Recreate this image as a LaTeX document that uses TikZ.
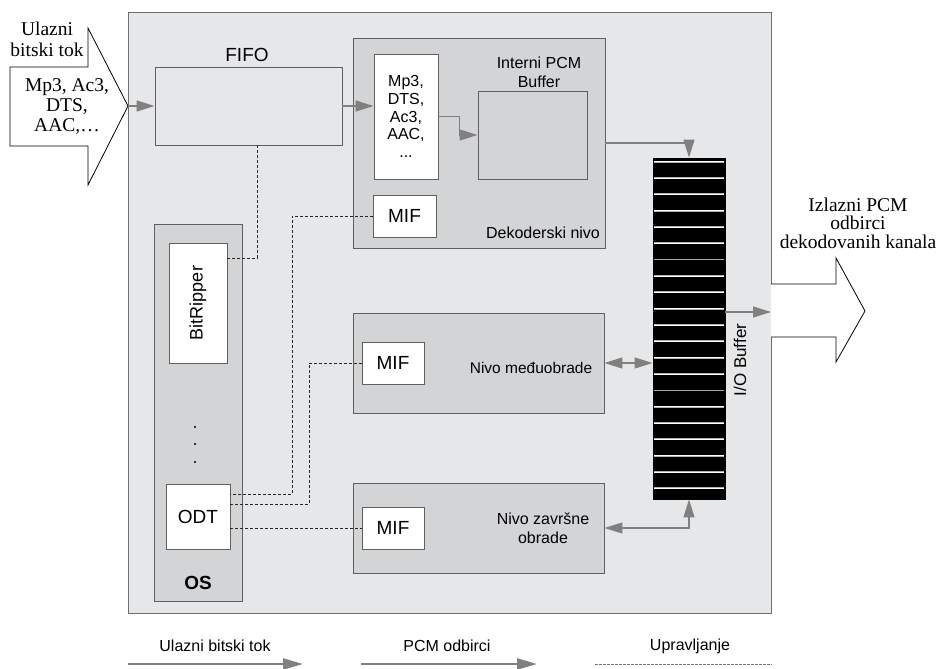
\documentclass[tikz,border=0pt]{standalone}
\usepackage{fontspec}
\setmainfont{Liberation Serif}
\setsansfont{Liberation Sans}
\usetikzlibrary{arrows.meta,calc}
\definecolor{bgout}{RGB}{230,231,233}
\definecolor{bgin}{RGB}{211,212,214}
\definecolor{edgec}{RGB}{95,95,95}
\definecolor{flow}{RGB}{128,128,128}
\begin{document}
\begin{tikzpicture}[x=1pt,y=-1pt,
  blk/.style={draw=edgec, line width=0.9pt, inner sep=0pt, anchor=center},
  wbox/.style={blk, fill=white},
  gbox/.style={blk, fill=bgin},
  sf/.style={font=\sffamily\fontsize{16}{18}\selectfont, inner sep=0pt},
  sfbig/.style={font=\sffamily\fontsize{19}{21}\selectfont},
  rm/.style={font=\rmfamily\fontsize{19.5}{20}\selectfont, inner sep=0pt, align=center},
  tipA/.tip={Triangle[length=18pt,width=11pt]},
  data/.style={draw=flow, line width=1.3pt, -tipA},
  datab/.style={draw=flow, line width=1.3pt, tipA-tipA},
  ctrl/.style={draw=black!85, line width=0.8pt, dash pattern=on 3pt off 2pt},
  legarrow/.style={draw=flow, line width=2.5pt, -{Triangle[length=20pt,width=11pt]}},
  legctrl/.style={draw=flow!90!black, line width=1pt, dash pattern=on 2.5pt off 1.5pt},
  stripe/.style={draw=gray!60, line width=1.8pt},
  stripein/.style={draw=white, line width=0.7pt},
  stripedim/.style={draw=gray!70, line width=0.8pt}
]
\useasboundingbox (0,0) rectangle (943,669);

% outer system box
\node[blk, draw=edgec!90, fill=bgout, minimum width=643pt, minimum height=601pt] (outer) at (449.5,312.5) {};

% input hollow arrow
\draw[line width=0.8pt, fill=white] (10,67) -- (88,67) -- (88,28) -- (128,106) -- (88,185) -- (88,146) -- (10,146) -- cycle;
\coordinate (intip) at (128,106);
\node[rm, font=\rmfamily\fontsize{19.5}{21}\selectfont] (inlab) at (47,39) {Ulazni\\bitski tok};
\node[rm] (infmt) at (67,107) {Mp3, Ac3,\\DTS,\\AAC,\ldots};

% output hollow arrow
\draw[line width=0.8pt, fill=white] (771,284) -- (836,284) -- (836,258) -- (865,311) -- (836,362) -- (836,337) -- (771,337);
\node[rm, font=\rmfamily\fontsize{19.5}{18.5}\selectfont] (outlab) at (858,223) {Izlazni PCM\\odbirci\\dekodovanih kanala};

% FIFO
\node[blk, fill=bgout, minimum width=187pt, minimum height=78pt] (fifo) at (248.5,106) {};
\node[sfbig, inner sep=0pt] (fifolab) at (247,55) {FIFO};

% decoder level
\node[gbox, minimum width=252pt, minimum height=210pt] (dec) at (479,143) {};
\node[wbox, minimum width=64pt, minimum height=125pt, align=center, font=\sffamily\fontsize{16}{17.7}\selectfont] (mp3) at (406,116.5) {Mp3,\\DTS,\\Ac3,\\AAC,\\...};
\node[gbox, minimum width=109pt, minimum height=88pt] (ipcm) at (532.5,135) {};
\node[sf, align=center, font=\sffamily\fontsize{16}{19}\selectfont] (ipcmlab) at (539,72) {Interni PCM\\Buffer};
\node[wbox, sfbig, minimum width=63pt, minimum height=42pt] (mif1) at (404.5,216) {MIF};
\node[sf] (declab) at (543,233) {Dekoderski nivo};

% intermediate level
\node[gbox, minimum width=251pt, minimum height=100pt] (mid) at (478.5,363) {};
\node[wbox, sfbig, minimum width=62pt, minimum height=42pt] (mif2) at (393,363) {MIF};
\node[sf, font=\sffamily\fontsize{15.5}{18}\selectfont] (midlab) at (531,368) {Nivo međuobrade};

% final level
\node[gbox, minimum width=251pt, minimum height=90pt] (fin) at (478.5,528) {};
\node[wbox, sfbig, minimum width=62pt, minimum height=42pt] (mif3) at (393,528) {MIF};
\node[sf, align=center, font=\sffamily\fontsize{16}{19}\selectfont] (finlab) at (543,528.5) {Nivo završne\\obrade};

% OS
\node[gbox, minimum width=88pt, minimum height=377pt] (os) at (198,412.5) {};
\node[wbox, minimum width=58pt, minimum height=120pt] (bitr) at (198,303) {};
\node[sf, rotate=90, font=\sffamily\fontsize{18}{20}\selectfont] (bitrlab) at (bitr.center) {BitRipper};
\fill (195,427) circle (1.1pt);
\fill (195,444) circle (1.1pt);
\fill (195,462) circle (1.1pt);
\node[wbox, sfbig, minimum width=64pt, minimum height=65pt] (odt) at (198,516.5) {ODT};
\node[font=\sffamily\bfseries\fontsize{19}{21}\selectfont, inner sep=0pt] (oslab) at (198,583) {OS};

% I/O buffer
\node[blk, draw=black, fill=black, minimum width=72pt, minimum height=341pt] (iob) at (689,328.5) {};
\foreach \i in {0,...,20}{
  \pgfmathsetmacro\yy{161.7+16.33*\i}
  \ifnum\i=6
    \draw[stripedim] (654,\yy) -- (724,\yy);
  \else\ifnum\i=14
    \draw[stripedim] (654,\yy) -- (724,\yy);
  \else
    \draw[stripe] (654,\yy) -- (724,\yy);
    \draw[stripein] (654,\yy) -- (724,\yy);
  \fi\fi
}
\node[sf, rotate=90, font=\sffamily\fontsize{17}{19}\selectfont] (ioblab) at (740,360) {I/O Buffer};

% data connectors
\draw[data] (intip) -- (fifo.west);
\draw[data] (fifo.east) -- (fifo.east -| mp3.west);
\draw[data] (mp3.east) -- ++(21,0) |- (ipcm.west);
\draw[data] (dec.east) -| (iob.north);
\draw[datab] (mid.east) -- (mid.east -| iob.west);
\draw[datab] (fin.east) -| (iob.south);
\coordinate (outp) at (771,312);
\draw[data] (iob.east |- outp) -- (outp);

% control connectors
\coordinate (c1) at (257,258);
\coordinate (c2) at (292,494);
\coordinate (c3) at (309,504);
\draw[ctrl] (fifo.south -| c1) -- (c1) -- (c1 -| bitr.east);
\draw[ctrl] (mif1.west) -- (mif1.west -| c2) -- (c2) -- (c2 -| odt.east);
\draw[ctrl] (mif2.west) -| (c3) -- (c3 -| odt.east);
\draw[ctrl] (odt.east |- mif3.west) -- (mif3.west);

% legend
\node[sf] (lg1) at (215,646) {Ulazni bitski tok};
\node[sf] (lg2) at (447,646) {PCM odbirci};
\node[sf] (lg3) at (690,646) {Upravljanje};
\coordinate (lg1a) at (128,664); \coordinate (lg1b) at (303,664);
\coordinate (lg2a) at (361,664); \coordinate (lg2b) at (537,664);
\coordinate (lg3a) at (595,664); \coordinate (lg3b) at (772,664);
\draw[legarrow] (lg1a) -- (lg1b);
\draw[legarrow] (lg2a) -- (lg2b);
\draw[legctrl] (lg3a) -- (lg3b);
\end{tikzpicture}
\end{document}
